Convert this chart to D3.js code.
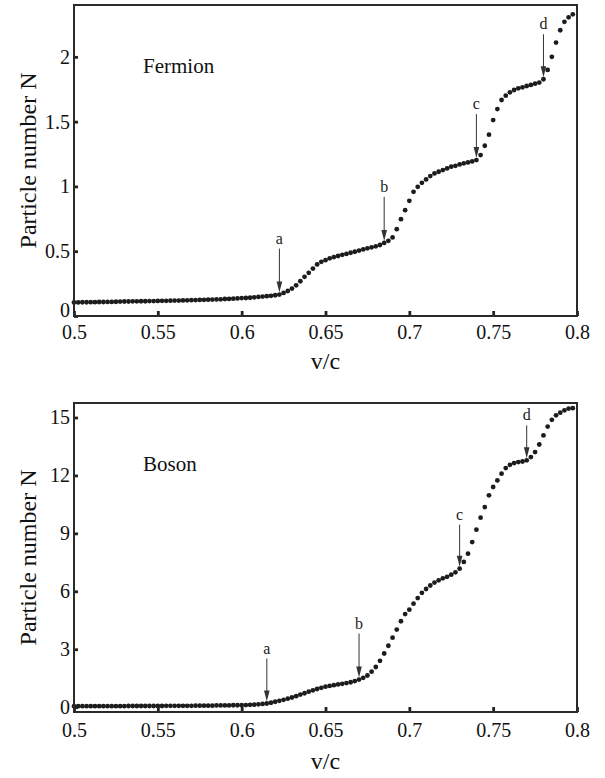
<!DOCTYPE html>
<html>
<head>
<meta charset="utf-8">
<script src="https://cdn.jsdelivr.net/npm/d3@7"></script>
<style>
  html, body { margin: 0; padding: 0; background: #fff; }
  svg { display: block; }
</style>
</head>
<body>
<svg id="chart" width="605" height="778"></svg>
<script>
// Sampled velocities v/c
const velocity = [
  0.5, 0.5025, 0.505, 0.5075, 0.51, 0.5125, 0.515, 0.5175, 0.52, 0.5225,
  0.525, 0.5275, 0.53, 0.5325, 0.535, 0.5375, 0.54, 0.5425, 0.545, 0.5475,
  0.55, 0.5525, 0.555, 0.5575, 0.56, 0.5625, 0.565, 0.5675, 0.57, 0.5725,
  0.575, 0.5775, 0.58, 0.5825, 0.585, 0.5875, 0.59, 0.5925, 0.595, 0.5975,
  0.6, 0.6025, 0.605, 0.6075, 0.61, 0.6125, 0.615, 0.6175, 0.62, 0.6225,
  0.625, 0.6275, 0.63, 0.6325, 0.635, 0.6375, 0.64, 0.6425, 0.645, 0.6475,
  0.65, 0.6525, 0.655, 0.6575, 0.66, 0.6625, 0.665, 0.6675, 0.67, 0.6725,
  0.675, 0.6775, 0.68, 0.6825, 0.685, 0.6875, 0.69, 0.6925, 0.695, 0.6975,
  0.7, 0.7025, 0.705, 0.7075, 0.71, 0.7125, 0.715, 0.7175, 0.72, 0.7225,
  0.725, 0.7275, 0.73, 0.7325, 0.735, 0.7375, 0.74, 0.7425, 0.745, 0.7475,
  0.75, 0.7525, 0.755, 0.7575, 0.76, 0.7625, 0.765, 0.7675, 0.77, 0.7725,
  0.775, 0.7775, 0.78, 0.7825, 0.785, 0.7875, 0.79, 0.7925, 0.795, 0.7975
];

// Created particle number, fermions
const fermionN = [
  0.105, 0.105, 0.106, 0.106, 0.107, 0.107, 0.108, 0.108, 0.109, 0.109,
  0.110, 0.111, 0.112, 0.112, 0.113, 0.113, 0.114, 0.114, 0.115, 0.115,
  0.116, 0.117, 0.117, 0.118, 0.119, 0.119, 0.120, 0.121, 0.122, 0.123,
  0.124, 0.125, 0.126, 0.127, 0.128, 0.129, 0.131, 0.132, 0.134, 0.136,
  0.138, 0.139, 0.141, 0.144, 0.147, 0.150, 0.153, 0.156, 0.160, 0.165,
  0.178, 0.193, 0.212, 0.237, 0.268, 0.302, 0.333, 0.366, 0.398, 0.418,
  0.431, 0.445, 0.455, 0.463, 0.472, 0.480, 0.488, 0.496, 0.505, 0.514,
  0.522, 0.530, 0.538, 0.548, 0.564, 0.580, 0.606, 0.670, 0.747, 0.817,
  0.889, 0.958, 0.997, 1.028, 1.054, 1.080, 1.100, 1.113, 1.126, 1.139,
  1.152, 1.159, 1.170, 1.178, 1.185, 1.193, 1.203, 1.242, 1.314, 1.399,
  1.512, 1.597, 1.667, 1.700, 1.726, 1.744, 1.757, 1.765, 1.775, 1.783,
  1.793, 1.801, 1.827, 1.899, 2.000, 2.110, 2.205, 2.270, 2.305, 2.328
];

// Created particle number, bosons
const bosonN = [
  0.05, 0.05, 0.05, 0.05, 0.05, 0.05, 0.05, 0.05, 0.05, 0.05,
  0.05, 0.05, 0.05, 0.06, 0.06, 0.06, 0.06, 0.06, 0.06, 0.06,
  0.06, 0.06, 0.07, 0.07, 0.07, 0.07, 0.07, 0.07, 0.07, 0.08,
  0.08, 0.08, 0.08, 0.08, 0.09, 0.09, 0.09, 0.09, 0.10, 0.10,
  0.10, 0.11, 0.12, 0.13, 0.15, 0.17, 0.19, 0.23, 0.28, 0.33,
  0.38, 0.44, 0.50, 0.57, 0.65, 0.72, 0.80, 0.87, 0.94, 1.00,
  1.06, 1.10, 1.14, 1.18, 1.21, 1.25, 1.29, 1.35, 1.43, 1.52,
  1.64, 1.84, 2.08, 2.40, 2.78, 3.18, 3.60, 4.02, 4.45, 4.82,
  5.05, 5.36, 5.65, 5.92, 6.12, 6.30, 6.45, 6.57, 6.67, 6.75,
  6.86, 6.98, 7.17, 7.52, 7.95, 8.55, 9.19, 9.81, 10.36, 10.97,
  11.40, 11.74, 12.09, 12.38, 12.55, 12.64, 12.69, 12.72, 12.78, 12.95,
  13.21, 13.60, 14.07, 14.53, 14.88, 15.11, 15.25, 15.37, 15.46, 15.48
];

const xTicks = [0.5, 0.55, 0.6, 0.65, 0.7, 0.75, 0.8];
const fermionYTicks = [0, 0.5, 1, 1.5, 2];
const bosonYTicks = [0, 3, 6, 9, 12, 15];

// Thresholds marked with arrows
const fermionMarkers = [
  { label: "a", v: 0.6225 }, { label: "b", v: 0.685 },
  { label: "c", v: 0.74 },   { label: "d", v: 0.78 }
];
const bosonMarkers = [
  { label: "a", v: 0.615 }, { label: "b", v: 0.67 },
  { label: "c", v: 0.73 },  { label: "d", v: 0.77 }
];

// ---- layout & style ----
const FONT = "'Liberation Serif', 'Times New Roman', serif";
const plotLeft = 74, plotRight = 577;

const panels = [
  {
    name: "Fermion", values: fermionN, yDomain: [0, 2.4], yTicks: fermionYTicks,
    markers: fermionMarkers, top: 5, bottom: 316,
    xTickPad: 9, xTitleGap: 53, zeroLift: 6, arrowLen: { a: 44, b: 44, c: 44, d: 43 }
  },
  {
    name: "Boson", values: bosonN, yDomain: [-0.25, 15.75], yTicks: bosonYTicks,
    markers: bosonMarkers, top: 403, bottom: 712,
    xTickPad: 11, xTitleGap: 57, zeroLift: 0, arrowLen: { a: 43, b: 44, c: 42, d: 33 }
  }
];

const svg = d3.select("#chart");

panels.forEach(p => {
  const x = d3.scaleLinear().domain([0.5, 0.8]).range([plotLeft, plotRight]);
  const y = d3.scaleLinear().domain(p.yDomain).range([p.bottom, p.top]);
  const g = svg.append("g");

  // data points
  g.append("g")
    .selectAll("circle")
    .data(velocity.map((v, i) => ({ v, n: p.values[i] })))
    .join("circle")
    .attr("cx", d => x(d.v))
    .attr("cy", d => y(d.n))
    .attr("r", 2.4)
    .attr("fill", "#1c1c1c");

  // x axis (ticks pointing inward)
  const xAxis = d3.axisBottom(x)
    .tickValues(xTicks)
    .tickFormat(d => String(d))
    .tickSizeInner(-5)
    .tickSizeOuter(0)
    .tickPadding(p.xTickPad);
  const gx = g.append("g").attr("transform", `translate(0,${p.bottom})`).call(xAxis);
  gx.select(".domain").remove();
  gx.selectAll(".tick line").attr("stroke", "#222").attr("stroke-width", 2.8);
  gx.selectAll(".tick text")
    .attr("fill", "#111")
    .style("font-family", FONT)
    .style("font-size", "20px");

  // y axis (ticks pointing inward)
  const yAxis = d3.axisLeft(y)
    .tickValues(p.yTicks)
    .tickFormat(d => String(d))
    .tickSizeInner(-4)
    .tickSizeOuter(0)
    .tickPadding(4);
  const gy = g.append("g").attr("transform", `translate(${plotLeft},0)`).call(yAxis);
  gy.select(".domain").remove();
  gy.selectAll(".tick line").attr("stroke", "#222").attr("stroke-width", 2.8);
  gy.selectAll(".tick text")
    .attr("fill", "#111")
    .style("font-family", FONT)
    .style("font-size", "20px")
    .attr("y", d => (d === 0 ? -p.zeroLift : 0));

  // frame
  g.append("rect")
    .attr("x", plotLeft).attr("y", p.top)
    .attr("width", plotRight - plotLeft).attr("height", p.bottom - p.top)
    .attr("fill", "none").attr("stroke", "#2a2a2a").attr("stroke-width", 2);

  // arrows marking thresholds
  p.markers.forEach(m => {
    const idx = d3.minIndex(velocity, v => Math.abs(v - m.v));
    const px = x(velocity[idx]);
    const tip = y(p.values[idx]) - 2;
    const len = p.arrowLen[m.label];
    g.append("line")
      .attr("x1", px).attr("x2", px)
      .attr("y1", tip - len).attr("y2", tip - 8)
      .attr("stroke", "#333").attr("stroke-width", 1);
    g.append("path")
      .attr("d", `M${px},${tip} L${px - 2.8},${tip - 11} L${px + 2.8},${tip - 11} Z`)
      .attr("fill", "#333");
    g.append("text")
      .attr("x", px).attr("y", tip - len - 5)
      .attr("text-anchor", "middle")
      .attr("fill", "#222")
      .style("font-family", FONT)
      .style("font-size", "16px")
      .text(m.label);
  });

  // panel name
  g.append("text")
    .attr("x", 143).attr("y", p.top + 68)
    .attr("fill", "#111")
    .style("font-family", FONT)
    .style("font-size", "21px")
    .text(p.name);

  // axis titles
  g.append("text")
    .attr("x", (plotLeft + plotRight) / 2).attr("y", p.bottom + p.xTitleGap)
    .attr("text-anchor", "middle")
    .attr("fill", "#111")
    .style("font-family", FONT)
    .style("font-size", "24px")
    .text("v/c");

  g.append("text")
    .attr("transform", `translate(36,${(p.top + p.bottom) / 2}) rotate(-90)`)
    .attr("text-anchor", "middle")
    .attr("fill", "#111")
    .style("font-family", FONT)
    .style("font-size", "24px")
    .text("Particle number N");
});
</script>
</body>
</html>
